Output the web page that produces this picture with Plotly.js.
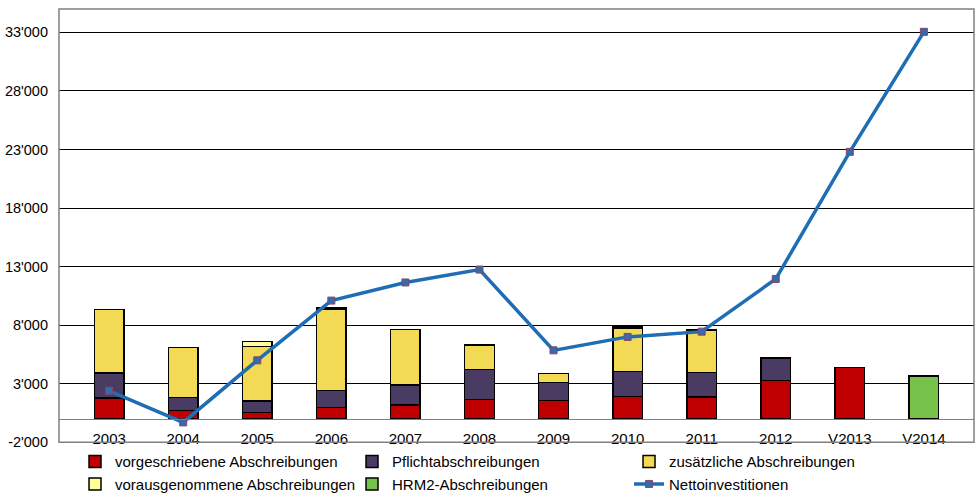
<!DOCTYPE html>
<html>
<head>
<meta charset="utf-8">
<script src="https://cdn.plot.ly/plotly-3.0.1.min.js"></script>
<style>html,body{margin:0;padding:0;background:#fff;}#chart{width:978px;height:500px;}</style>
</head>
<body>
<div id="chart"></div>
<script>
var years = ['2003','2004','2005','2006','2007','2008','2009','2010','2011','2012','V2013','V2014'];
var vorgeschriebene = [1800, 700, 550, 980, 1190, 1670, 1590, 1930, 1880, 3260, 4400, null];
var pflicht = [2100, 1120, 980, 1440, 1720, 2530, 1500, 2100, 2070, 1950, null, null];
var zusaetzlich = [5450, 4280, 4660, 6940, 4710, 2130, 770, 3700, 3600, null, null, null];
var vorausgenommen = [null, null, 400, 100, null, null, null, 100, 100, null, null, null];
var hrm2 = [null, null, null, null, null, null, null, null, null, null, null, 3660];
var netto = [2400, -300, 5000, 10100, 11650, 12750, 5850, 7000, 7450, 11950, 22800, 33050];
var yTickVals = [-2000, 3000, 8000, 13000, 18000, 23000, 28000, 33000];
var yTickText = ["-2'000", "3'000", "8'000", "13'000", "18'000", "23'000", "28'000", "33'000"];

var yMin = -2000, yMax = 35000;
var domStart = 0.1139;
var zeroPos = domStart + (1 - domStart) * (0 - yMin) / (yMax - yMin);

var outline = {color: '#000000', width: 1.5};
function bar(name, vals, color) {
  return {type: 'bar', name: name, x: years, y: vals, width: 0.4,
          marker: {color: color, line: outline}, hoverinfo: 'y+name'};
}
var traces = [
  bar('vorgeschriebene Abschreibungen', vorgeschriebene, '#C00000'),
  bar('Pflichtabschreibungen', pflicht, '#4A3B62'),
  bar('zusätzliche Abschreibungen', zusaetzlich, '#F2DA55'),
  bar('vorausgenommene Abschreibungen', vorausgenommen, '#FFFF99'),
  bar('HRM2-Abschreibungen', hrm2, '#76C24B'),
  {type: 'scatter', mode: 'lines+markers', name: 'Nettoinvestitionen', x: years, y: netto,
   line: {color: '#1F6DB4', width: 3.5},
   marker: {symbol: 'square', size: 7, color: '#2F6DB0', line: {color: '#8A4466', width: 1}}}
];

var layout = {
  width: 978, height: 500,
  margin: {l: 59, r: 4, t: 9, b: 2, autoexpand: false},
  paper_bgcolor: '#ffffff', plot_bgcolor: '#ffffff',
  barmode: 'stack',
  font: {family: 'Liberation Sans, Arial, sans-serif', size: 14, color: '#000000'},
  showlegend: true,
  legend: {orientation: 'h', x: 0.0175, xanchor: 'left', y: 0.108, yanchor: 'top',
           traceorder: 'normal', entrywidth: 232, entrywidthmode: 'pixels',
           font: {size: 15, color: '#000000'}, itemwidth: 30, tracegroupgap: 0},
  xaxis: {type: 'category', anchor: 'free', position: zeroPos,
          showline: true, linecolor: '#808080', linewidth: 1.5,
          showgrid: false, ticks: 'outside', ticklen: 6, tickcolor: 'rgba(0,0,0,0)',
          tickfont: {size: 15}, fixedrange: true},
  yaxis: {domain: [domStart, 1], range: [yMin, yMax], tickvals: yTickVals, ticktext: yTickText,
          showgrid: true, gridcolor: '#000000', gridwidth: 1, ticklabelstandoff: 10,
          zeroline: false, showline: false, ticks: '', tickfont: {size: 14.5}, fixedrange: true},
  shapes: [{type: 'rect', xref: 'paper', yref: 'paper', x0: 0, x1: 1, y0: domStart, y1: 1,
            line: {color: '#808080', width: 1.5}, fillcolor: 'rgba(0,0,0,0)', layer: 'above'}]
};
Plotly.newPlot('chart', traces, layout, {displayModeBar: false, staticPlot: true});
</script>
</body>
</html>
